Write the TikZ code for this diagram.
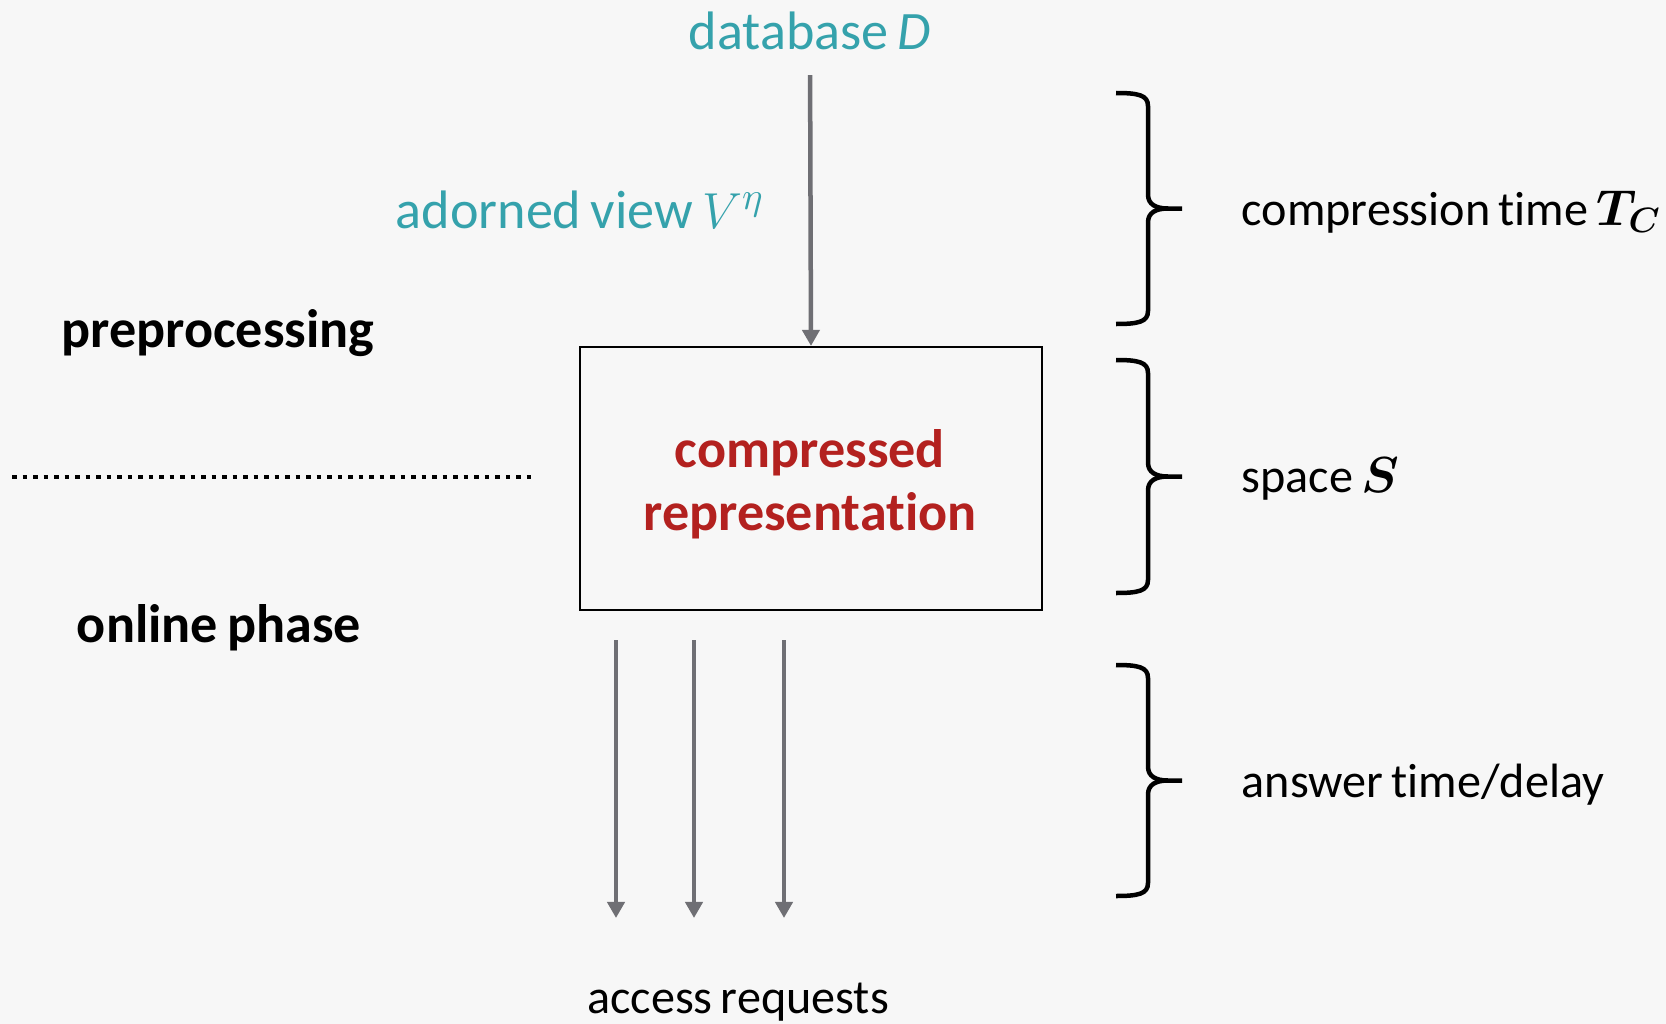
\documentclass[tikz,border=0pt]{standalone}
\usepackage{amsmath,bm}
\usepackage{fontspec}
\setmainfont[Ligatures=NoCommon, WordSpace=0.75]{Carlito}
\usetikzlibrary{arrows.meta}

\definecolor{pagebg}{HTML}{F7F7F7}
\definecolor{tealtext}{HTML}{35A2AC}
\definecolor{redtext}{HTML}{B3211F}
\definecolor{arrowgrey}{HTML}{6F6F74}

\begin{document}
\begin{tikzpicture}[x=0.01cm,y=-0.01cm,
  every node/.style={inner sep=0pt},
  bigtext/.style={font=\fontsize{15.4}{18}\selectfont},
  bigbold/.style={font=\fontsize{15.4}{17.9}\selectfont\bfseries},
  smalltext/.style={font=\fontsize{13.7}{16}\selectfont},
  flowarrow/.style={draw=arrowgrey, line width=0.045cm,
    -{Triangle[width=0.17cm,length=0.16cm]}},
  bracestroke/.style={draw=black, line width=0.045cm},
  dotline/.style={draw=black, line width=0.045cm,
    dash pattern=on 0.045cm off 0.06cm}]

  % page
  \fill[pagebg] (0,0) rectangle (1666,1024);
  \useasboundingbox (0,0) rectangle (1666,1024);

  % input side
  \node[bigtext, text=tealtext, anchor=base] (db) at (810,49) {database \textit{D}};
  \node[bigtext, text=tealtext, anchor=base east] (view) at (765,228) {adorned view $V^{\eta}$};

  % central store
  \node[draw=black, line width=0.02cm, minimum width=4.62cm, minimum height=2.63cm]
        (box) at (811,478.5) {};
  \node[bigbold, text=redtext, align=center] (rep) at (810,484) {compressed\\representation};

  \draw[flowarrow, shorten <=0.25cm] (db.south) -- (box.north);

  % phase labels and separator
  \node[bigbold, anchor=base] (pre) at (218,347) {preprocessing};
  \node[bigbold, anchor=base] (online) at (219,642) {online phase};
  \coordinate (dotL) at (12,477);
  \coordinate (dotR) at (531,477);
  \draw[dotline] (dotL) -- (dotR);

  % access requests
  \foreach \x [count=\i] in {616,694,784} {
    \coordinate (req\i top) at (\x,640);
    \coordinate (req\i tip) at (\x,918);
    \draw[flowarrow] (req\i top) -- (req\i tip);
  }
  \node[smalltext, anchor=base] (access) at (738,1013) {access requests};

  % cost labels
  \node[smalltext, anchor=base west] (ctime) at (1241,225) {compression time $\bm{T_C}$};
  \node[smalltext, anchor=base west] (space) at (1241,492) {space $\bm{S}$};
  \node[smalltext, anchor=base west] (answer) at (1241,797) {answer time/delay};

  % right braces
  \foreach \t/\b in {93/324, 360/593, 665/896} {
    \pgfmathsetmacro{\m}{(\t+\b)/2}
    \draw[bracestroke]
      (1116,\t) .. controls (1138,\t) and (1148,\t+2) .. (1148,\t+13)
      -- (1148,\m-14) .. controls (1148,\m-4) and (1156,\m) .. (1168,\m)
      -- (1182,\m);
    \draw[bracestroke]
      (1168,\m) .. controls (1156,\m) and (1148,\m+4) .. (1148,\m+14)
      -- (1148,\b-13) .. controls (1148,\b-2) and (1138,\b) .. (1116,\b);
  }
\end{tikzpicture}
\end{document}
